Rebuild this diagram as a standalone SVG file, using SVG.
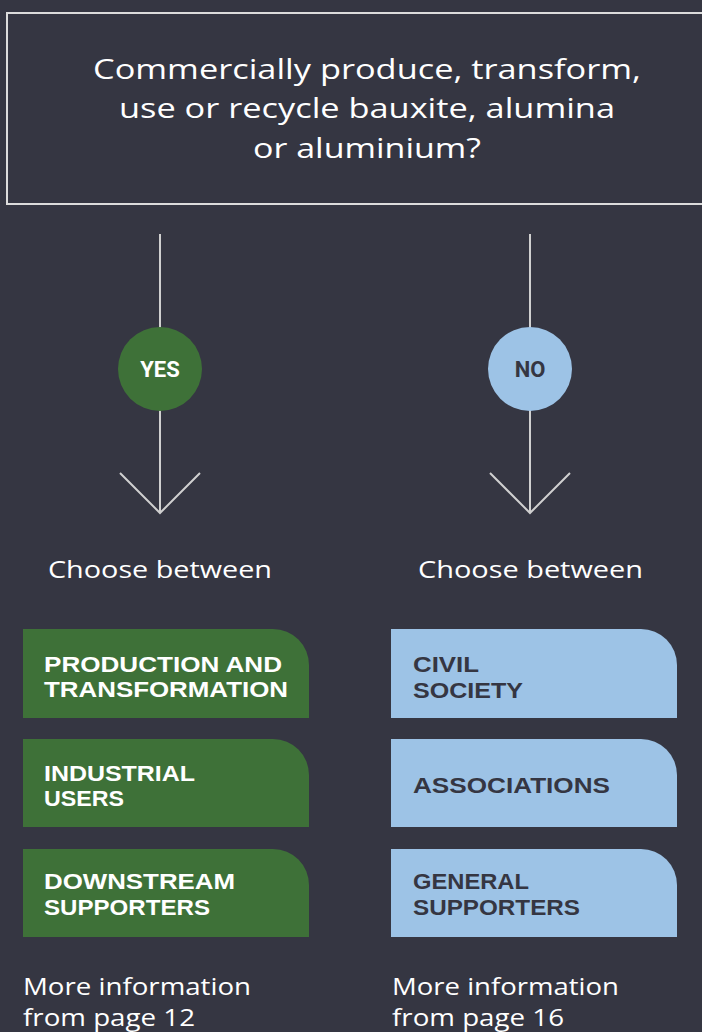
<svg xmlns="http://www.w3.org/2000/svg" width="702" height="1032" viewBox="0 0 702 1032">
<style>
.q{font-family:"Open Sans","Liberation Sans",sans-serif;font-size:28px;fill:#ffffff;text-anchor:middle}
.t{font-family:"Open Sans","Liberation Sans",sans-serif;font-size:24px;fill:#ffffff}
.b{font-family:"Liberation Sans",Arial,sans-serif;font-size:22px;font-weight:700}
.w{fill:#ffffff}
.d{fill:#353642}
.g{fill:#3e7138}
.l{fill:#9dc3e6}
.c{font-family:Roboto,"Liberation Sans",sans-serif;font-size:22px;font-weight:700;text-anchor:middle}
.ln{stroke:#d0d0d0;stroke-width:2;fill:none}
</style>
<rect width="702" height="1032" fill="#353642"/>
<g id="question">
<rect x="7" y="13" width="710" height="191" fill="none" stroke="#dcdcdc" stroke-width="2"/>
<text class="q" x="367" y="79" textLength="548" lengthAdjust="spacingAndGlyphs">Commercially produce, transform,</text>
<text class="q" x="367" y="118" textLength="496" lengthAdjust="spacingAndGlyphs">use or recycle bauxite, alumina</text>
<text class="q" x="367" y="158" textLength="228" lengthAdjust="spacingAndGlyphs">or aluminium?</text>
</g>
<g id="connectors">
<line class="ln" x1="160" y1="234" x2="160" y2="513"/>
<polyline class="ln" points="120,473 160,513 200,473"/>
<line class="ln" x1="530" y1="234" x2="530" y2="513"/>
<polyline class="ln" points="490,473 530,513 570,473"/>
</g>
<g id="yes">
<circle cx="160" cy="369" r="42" class="g"/>
<text class="c w" x="160" y="377">YES</text>
</g>
<g id="no">
<circle cx="530" cy="369" r="42" class="l"/>
<text class="c d" x="530" y="377">NO</text>
</g>
<g id="choose-yes"><text class="t" x="48" y="578" textLength="224" lengthAdjust="spacingAndGlyphs">Choose between</text></g>
<g id="choose-no"><text class="t" x="418" y="578" textLength="225" lengthAdjust="spacingAndGlyphs">Choose between</text></g>
<g id="production">
<path class="g" d="M23,629 H273 A36,36 0 0 1 309,665 V718 H23 Z"/>
<text class="b w" x="44" y="672" textLength="238" lengthAdjust="spacingAndGlyphs">PRODUCTION AND</text>
<text class="b w" x="44" y="697" textLength="244" lengthAdjust="spacingAndGlyphs">TRANSFORMATION</text>
</g>
<g id="industrial">
<path class="g" d="M23,739 H273 A36,36 0 0 1 309,775 V827 H23 Z"/>
<text class="b w" x="44" y="781" textLength="151" lengthAdjust="spacingAndGlyphs">INDUSTRIAL</text>
<text class="b w" x="44" y="806" textLength="80" lengthAdjust="spacingAndGlyphs">USERS</text>
</g>
<g id="downstream">
<path class="g" d="M23,849 H273 A36,36 0 0 1 309,885 V937 H23 Z"/>
<text class="b w" x="44" y="889" textLength="191" lengthAdjust="spacingAndGlyphs">DOWNSTREAM</text>
<text class="b w" x="44" y="915" textLength="166" lengthAdjust="spacingAndGlyphs">SUPPORTERS</text>
</g>
<g id="civil">
<path class="l" d="M391,629 H641 A36,36 0 0 1 677,665 V718 H391 Z"/>
<text class="b d" x="413" y="672" textLength="66" lengthAdjust="spacingAndGlyphs">CIVIL</text>
<text class="b d" x="413" y="698" textLength="110" lengthAdjust="spacingAndGlyphs">SOCIETY</text>
</g>
<g id="associations">
<path class="l" d="M391,739 H641 A36,36 0 0 1 677,775 V827 H391 Z"/>
<text class="b d" x="413" y="793" textLength="197" lengthAdjust="spacingAndGlyphs">ASSOCIATIONS</text>
</g>
<g id="general">
<path class="l" d="M391,849 H641 A36,36 0 0 1 677,885 V937 H391 Z"/>
<text class="b d" x="413" y="889" textLength="116" lengthAdjust="spacingAndGlyphs">GENERAL</text>
<text class="b d" x="413" y="915" textLength="167" lengthAdjust="spacingAndGlyphs">SUPPORTERS</text>
</g>
<g id="info-yes">
<text class="t" x="23" y="995" textLength="228" lengthAdjust="spacingAndGlyphs">More information</text>
<text class="t" x="23" y="1026" textLength="172" lengthAdjust="spacingAndGlyphs">from page 12</text>
</g>
<g id="info-no">
<text class="t" x="392" y="995" textLength="227" lengthAdjust="spacingAndGlyphs">More information</text>
<text class="t" x="392" y="1026" textLength="172" lengthAdjust="spacingAndGlyphs">from page 16</text>
</g>
</svg>
